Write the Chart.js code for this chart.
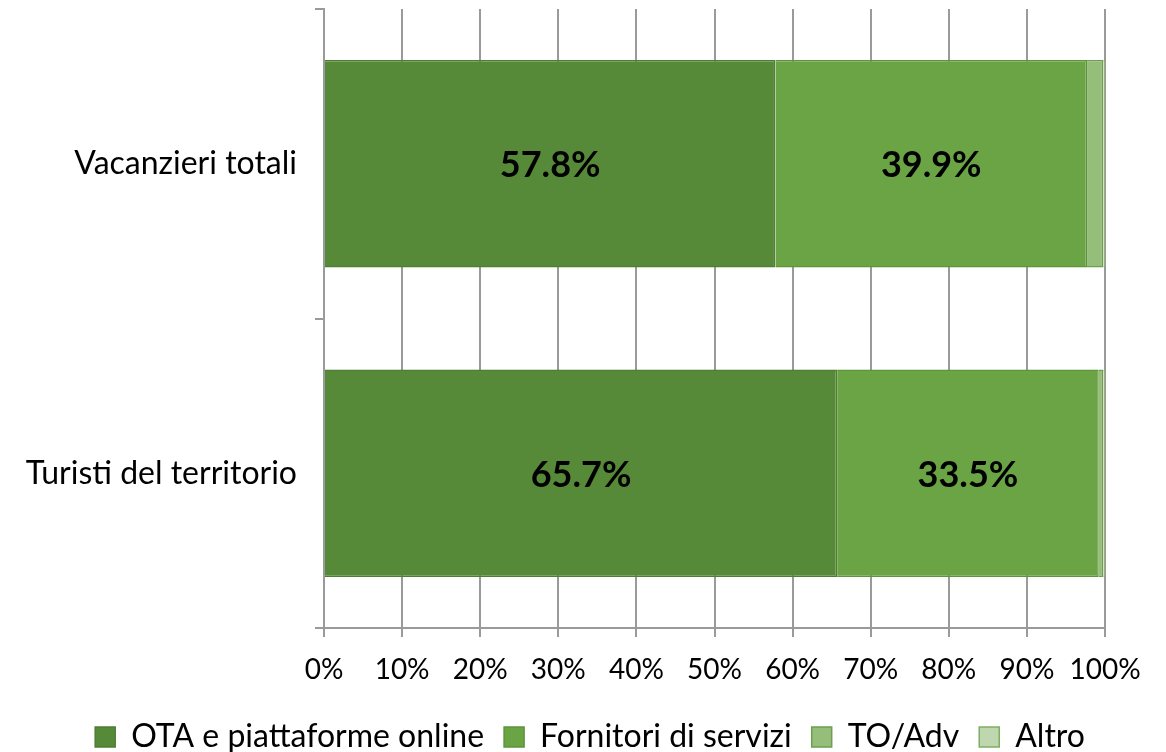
<!DOCTYPE html>
<html>
<head>
<meta charset="utf-8">
<script src="https://cdn.jsdelivr.net/npm/chart.js@4"></script>
<style>
html,body{margin:0;padding:0;background:#fff;}
#wrap{width:1166px;height:752px;}
</style>
</head>
<body>
<div id="wrap"><canvas id="c" width="1166" height="752"></canvas></div>
<script>
const categories = ["Vacanzieri totali", "Turisti del territorio"];
const seriesNames = ["OTA e piattaforme online", "Fornitori di servizi", "TO/Adv", "Altro"];
const otaValues = [57.8, 65.7];
const fornitoriValues = [39.9, 33.5];
const toAdvValues = [2.1, 0.6];
const altroValues = [0.2, 0.2];
const xTicks = [0, 10, 20, 30, 40, 50, 60, 70, 80, 90, 100];

const fills = ["#578A38", "#6AA444", "#94BE7A", "#BED7AE"];
const borders = ["#4E7E32", "#5E943C", "#6E9E4E", "#7FAE62"];
const FONT = "Lato, 'Liberation Sans', sans-serif";

const labelPlugin = {
  id: "barLabels",
  afterDatasetsDraw(chart) {
    const ctx = chart.ctx;
    ctx.save();
    ctx.font = "bold 36px " + FONT;
    ctx.fillStyle = "#000";
    ctx.textAlign = "center";
    ctx.textBaseline = "middle";
    [0, 1].forEach(di => {
      const meta = chart.getDatasetMeta(di);
      meta.data.forEach((el, i) => {
        const v = chart.data.datasets[di].data[i];
        const p = el.getCenterPoint();
        ctx.fillText(v.toFixed(1) + "%", p.x, p.y + 2);
      });
    });
    ctx.restore();
  }
};

const seriesData = [otaValues, fornitoriValues, toAdvValues, altroValues];

new Chart(document.getElementById("c"), {
  type: "bar",
  data: {
    labels: categories,
    datasets: seriesNames.map((n, i) => ({
      label: n,
      data: seriesData[i],
      backgroundColor: fills[i],
      borderColor: borders[i],
      borderWidth: 1.5,
      categoryPercentage: 1,
      barPercentage: 0.67
    }))
  },
  options: {
    indexAxis: "y",
    responsive: false,
    animation: false,
    devicePixelRatio: 1,
    layout: { padding: { top: 9, right: 61, left: 0, bottom: -11 } },
    plugins: {
      tooltip: { enabled: false },
      legend: {
        position: "bottom",
        align: "end",
        labels: {
          font: { family: FONT, size: 32 },
          color: "#000",
          boxWidth: 20,
          boxHeight: 20,
          padding: 20
        }
      }
    },
    scales: {
      x: {
        stacked: true,
        min: 0,
        max: 100,
        afterBuildTicks(axis) { axis.ticks = xTicks.map(v => ({ value: v })); },
        afterFit(axis) { axis.height = 73; axis.paddingLeft = 0; },
        ticks: {
          callback: v => v + "%",
          font: { family: FONT, size: 28 },
          color: "#000",
          padding: 16,
          maxRotation: 0
        },
        grid: { color: "#9A9A9A", lineWidth: 2, tickLength: 9 },
        border: { color: "#9A9A9A", width: 2 }
      },
      y: {
        stacked: true,
        afterFit(axis) { axis.width = 324; axis.paddingTop = 0; axis.paddingBottom = 0; },
        ticks: {
          font: { family: FONT, size: 32 },
          color: "#000",
          padding: 18
        },
        grid: { offset: true, drawOnChartArea: false, color: "#9A9A9A", lineWidth: 2, tickLength: 9 },
        border: { color: "#9A9A9A", width: 2 }
      }
    }
  },
  plugins: [labelPlugin]
});
</script>
</body>
</html>
